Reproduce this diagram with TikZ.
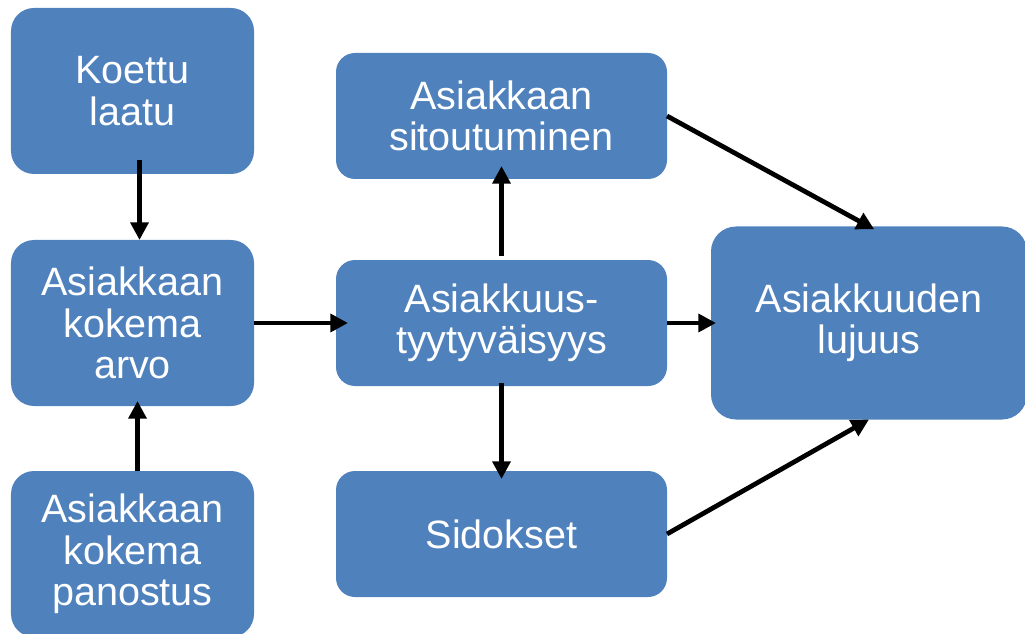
\documentclass[tikz,border=0pt]{standalone}
\usepackage{fontspec}
\setmainfont{Liberation Sans}
\usetikzlibrary{positioning,arrows.meta}
\definecolor{boxblue}{HTML}{4F81BD}
\tikzset{
  box/.style={rectangle,rounded corners=0.46cm,fill=boxblue,text=white,align=center,outer sep=0pt,
    font=\fontsize{22.5}{23.5}\selectfont},
  sidebox/.style={box,minimum width=4.86cm,minimum height=3.32cm},
  midbox/.style={box,rounded corners=0.38cm,minimum width=6.62cm,minimum height=2.52cm},
}
\begin{document}
\begin{tikzpicture}[->,>={Triangle[length=10pt,width=10pt]},line width=2.7pt]
        \useasboundingbox (0,0) rectangle (20.5,-12.68);
        \node[sidebox] (koettu) at (2.65,-1.82) {Koettu\\laatu};
        \node[sidebox] (arvo) [below=1.32cm of koettu] {Asiakkaan\\kokema\\arvo};
        \node[sidebox] (panostus) [below=1.3cm of arvo] {Asiakkaan\\kokema\\panostus};
        \node[midbox] (tyyty) [right=1.64cm of arvo] {Asiakkuus-\\tyytyväisyys};
        \node[midbox] (sitout) [above=1.62cm of tyyty] {Asiakkaan\\sitoutuminen};
        \node[midbox] (sidokset) [below=1.7cm of tyyty] {Sidokset};
        \node[box,rounded corners=0.5cm,minimum width=6.32cm,minimum height=3.86cm] (lujuus) [right=0.88cm of tyyty] {Asiakkuuden\\lujuus};

        \path[->] ([xshift=0.14cm]koettu.south) edge[shorten <=-0.28cm] ([xshift=0.14cm]arvo.north)
                  ([xshift=0.1cm]panostus.north) edge[shorten >=-0.1cm] ([xshift=0.1cm]arvo.south)
                  (arvo) edge[shorten >=-0.24cm] (tyyty)
                  (tyyty) edge[shorten <=0.08cm,shorten >=-0.26cm] (sitout)
                       edge[shorten <=-0.06cm,shorten >=-0.16cm] (sidokset)
                       edge[shorten >=-0.1cm] (lujuus)
                  (sitout.east) edge[shorten >=-0.12cm] (lujuus.north)
                  (sidokset.east) edge (lujuus.south);
    \end{tikzpicture}
\end{document}
